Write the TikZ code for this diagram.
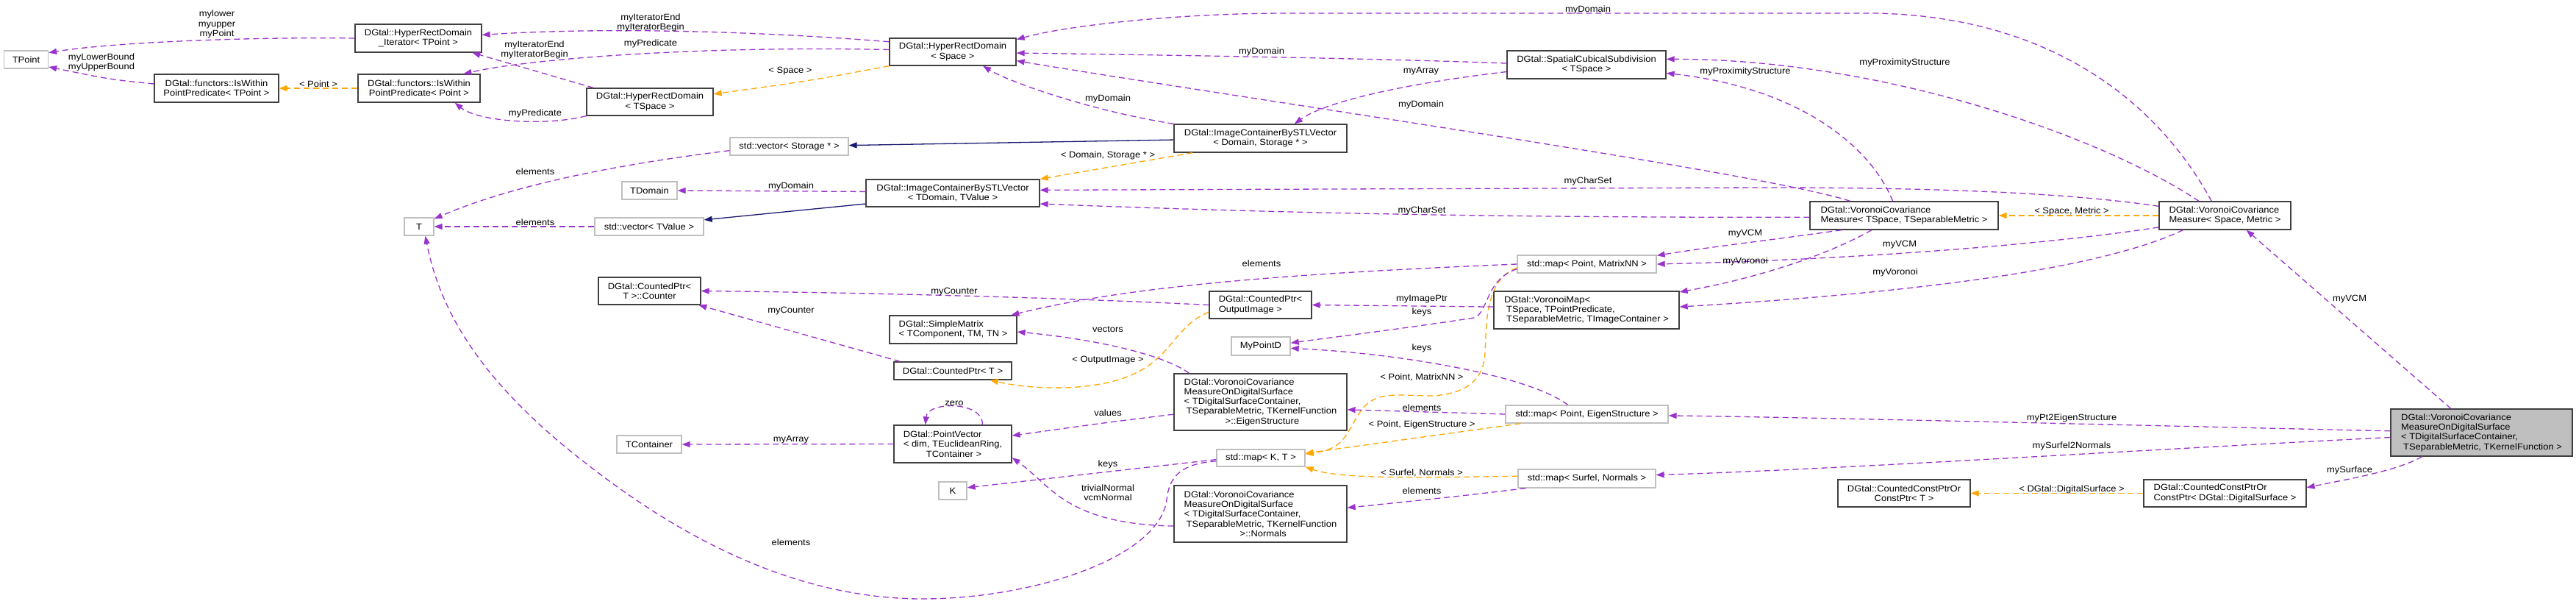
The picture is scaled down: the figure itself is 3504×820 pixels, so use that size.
\documentclass[tikz,border=0pt]{standalone}
\usepackage{fontspec}
\setmainfont{Liberation Sans}[FakeStretch=1.08]
\usetikzlibrary{arrows.meta}
\definecolor{usePurple}{rgb}{0.60, 0.20, 0.80}
\definecolor{tmplOrange}{rgb}{1.0, 0.65, 0.0}
\definecolor{inhBlue}{rgb}{0.10, 0.10, 0.44}
\definecolor{extGray}{rgb}{0.75, 0.75, 0.75}
\definecolor{boxDark}{rgb}{0.25, 0.25, 0.25}

\begin{document}
\begin{tikzpicture}[x=1pt, y=-1pt,
    font=\fontsize{12}{13.3}\selectfont,
    cls/.style={draw=boxDark, line width=1.3pt, inner sep=0pt, align=center},
    ext/.style={draw=extGray, line width=1.3pt, inner sep=0pt, align=center},
    dims/.style 2 args={minimum width=#1pt, minimum height=#2pt},
    use/.style={usePurple, line width=1.3pt, dash pattern=on 8pt off 5pt,
        -{Triangle[length=11pt, width=8pt]}},
    tmpl/.style={tmplOrange, line width=1.3pt, dash pattern=on 8pt off 5pt,
        -{Triangle[length=11pt, width=8pt]}},
    inh/.style={inhBlue, line width=1.3pt, -{Triangle[length=11pt, width=8pt]}},
    lbl/.style={inner sep=0pt, align=center}]
    \useasboundingbox (0,0) rectangle (3504,820);

    % classes, top rows
    \node[ext, dims={60}{24}] (tpoint) at (35.5,81) {TPoint};
    \node[cls, dims={172}{38}] (iter) at (569,52) {DGtal::HyperRectDomain\\\_Iterator< TPoint >};
    \node[cls, dims={169}{38}] (withinT) at (294.5,120) {DGtal::functors::IsWithin\\PointPredicate< TPoint >};
    \node[cls, dims={166}{38}] (withinP) at (570,120) {DGtal::functors::IsWithin\\PointPredicate< Point >};
    \node[cls, dims={172}{37}] (hrdT) at (884,138.5) {DGtal::HyperRectDomain\\< TSpace >};
    \node[cls, dims={172}{37}] (hrdS) at (1296,70.5) {DGtal::HyperRectDomain\\< Space >};
    \node[cls, dims={216}{38}] (scs) at (2158,88) {DGtal::SpatialCubicalSubdivision\\< TSpace >};
    \node[cls, dims={235}{38}] (icDS) at (1714.5,188) {DGtal::ImageContainerBySTLVector\\< Domain, Storage * >};
    \node[ext, dims={161}{24}] (vecS) at (1073.5,199) {std::vector< Storage * >};
    \node[ext, dims={75}{24}] (tdom) at (883.5,259) {TDomain};
    \node[cls, dims={236}{37}] (icTT) at (1296,262.5) {DGtal::ImageContainerBySTLVector\\< TDomain, TValue >};
    \node[ext, dims={148}{24}] (vecT) at (883,308) {std::vector< TValue >};
    \node[ext, dims={40}{24}] (t) at (570,308) {T};
    \node[cls, dims={256}{38}, align=left] (vcmT) at (2590,293) {DGtal::VoronoiCovariance\\Measure< TSpace, TSeparableMetric >};
    \node[cls, dims={179}{38}, align=left] (vcmS) at (3026.5,293) {DGtal::VoronoiCovariance\\Measure< Space, Metric >};

    % classes, middle rows
    \node[cls, dims={139}{37}] (counter) at (883.5,395.5) {DGtal::CountedPtr<\\T >::Counter};
    \node[cls, dims={173}{38}, align=left] (smat) at (1296.5,448) {DGtal::SimpleMatrix\\< TComponent, TM, TN >};
    \node[cls, dims={139}{37}, align=left] (cpOut) at (1714.5,414.5) {DGtal::CountedPtr<\\OutputImage >};
    \node[ext, dims={80}{25}] (mypt) at (1715,470.5) {MyPointD};
    \node[cls, dims={160}{24}] (cpT) at (1296,504) {DGtal::CountedPtr< T >};
    \node[ext, dims={189}{24}] (mapPM) at (2158.5,359) {std::map< Point, MatrixNN >};
    \node[cls, dims={252}{51}, align=left] (vmap) at (2158,421.5) {DGtal::VoronoiMap<\\\hspace*{3pt}TSpace, TPointPredicate,\\\hspace*{3pt}TSeparableMetric, TImageContainer >};

    % classes, bottom rows
    \node[cls, dims={160}{51}, align=left] (pvec) at (1296,603.5) {DGtal::PointVector\\< dim, TEuclideanRing,\\\hspace*{31pt}TContainer >};
    \node[ext, dims={88}{24}] (tcont) at (883,604) {TContainer};
    \node[ext, dims={38}{24}] (k) at (1296,667) {K};
    \node[cls, dims={235}{77}, align=left] (eigen) at (1714.5,546.5) {DGtal::VoronoiCovariance\\MeasureOnDigitalSurface\\< TDigitalSurfaceContainer,\\\hspace*{3pt}TSeparableMetric, TKernelFunction\\\hspace*{56pt}>::EigenStructure};
    \node[ext, dims={120}{23}] (mapKT) at (1715,622.5) {std::map< K, T >};
    \node[cls, dims={235}{77}, align=left] (normals) at (1714.5,698.5) {DGtal::VoronoiCovariance\\MeasureOnDigitalSurface\\< TDigitalSurfaceContainer,\\\hspace*{3pt}TSeparableMetric, TKernelFunction\\\hspace*{76pt}>::Normals};
    \node[ext, dims={221}{24}] (mapPE) at (2158.5,563) {std::map< Point, EigenStructure >};
    \node[ext, dims={187}{25}] (mapSN) at (2158.5,650.5) {std::map< Surfel, Normals >};
    \node[cls, dims={180}{37}] (ccpT) at (2590,670.5) {DGtal::CountedConstPtrOr\\ConstPtr< T >};
    \node[cls, dims={221}{37}, align=left] (ccpDS) at (3026.5,670.5) {DGtal::CountedConstPtrOr\\ConstPtr< DGtal::DigitalSurface >};
    \node[cls, fill=extGray, dims={247}{64}, align=left] (main) at (3375.5,588) {DGtal::VoronoiCovariance\\MeasureOnDigitalSurface\\< TDigitalSurfaceContainer,\\\hspace*{3pt}TSeparableMetric, TKernelFunction >};

    % inheritance
    \draw[inh] (icDS.181) -- (vecS.1);
    \draw[inh] (icTT.187) -- (vecT.7);

    % template instances
    \draw[tmpl] (withinP.west) -- (withinT.east);
    \node[lbl] at (433,114) {< Point >};
    \draw[tmpl] (hrdS.south west) .. controls (1100,110) .. (hrdT.7);
    \node[lbl] at (1075,97) {< Space >};
    \draw[tmpl] (icDS.192) -- (icTT.north east);
    \node[lbl] at (1507,211) {< Domain, Storage * >};
    \draw[tmpl] (vcmS.west) -- (vcmT.east);
    \node[lbl] at (2818,287) {< Space, Metric >};
    \draw[tmpl] (cpOut.188) .. controls (1580,450) and (1600,520) .. (1450,527)
        .. controls (1400,528) and (1370,522) .. (cpT.-14);
    \node[lbl] at (1507,490) {< OutputImage >};
    \draw[tmpl] (mapPM.183) .. controls (2020,380) and (2022,440) .. (2020,480)
        .. controls (2018,520) and (1990,535) .. (1950,538)
        .. controls (1900,538) and (1870,530) .. (1850,560)
        .. controls (1830,590) and (1830,610) .. (mapKT.5);
    \node[lbl] at (1934,513) {< Point, MatrixNN >};
    \draw[tmpl] (mapPE.188) -- (mapKT.6);
    \node[lbl] at (1934,577) {< Point, EigenStructure >};
    \draw[tmpl] (mapSN.178) .. controls (1900,650) and (1820,650) .. (mapKT.south east);
    \node[lbl] at (1934,643) {< Surfel, Normals >};
    \draw[tmpl] (ccpDS.west) -- (ccpT.east);
    \node[lbl] at (2818,665) {< DGtal::DigitalSurface >};

    % members, left part
    \draw[use] (iter.west) .. controls (330,50) and (150,58) .. (tpoint.17);
    \node[lbl] at (295,33) {mylower\\myupper\\myPoint};
    \draw[use] (withinT.176) .. controls (150,108) .. (tpoint.-18);
    \node[lbl] at (138,85) {myLowerBound\\myUpperBound};
    \draw[use] (hrdS.171) .. controls (1000,40) and (800,38) .. (iter.3);
    \node[lbl] at (885,31) {myIteratorEnd\\myIteratorBegin};
    \draw[use] (hrdS.178) .. controls (950,62) and (720,80) .. (withinP.18);
    \node[lbl] at (885,59) {myPredicate};
    \draw[use] (hrdT.166) -- (iter.-15);
    \node[lbl] at (727,68) {myIteratorEnd\\myIteratorBegin};
    \draw[use] (hrdT.south west) .. controls (740,172) and (650,165) .. (withinP.-22);
    \node[lbl] at (728,154) {myPredicate};
    \draw[use] (icDS.north west) .. controls (1480,150) and (1370,110) .. (hrdS.-25);
    \node[lbl] at (1507,134) {myDomain};
    \draw[use] (vecS.184) .. controls (850,222) and (700,250) .. (t.27);
    \node[lbl] at (728,233) {elements};
    \draw[use] (vecT.west) -- (t.east);
    \node[lbl] at (728,302) {elements};
    \draw[use] (icTT.179) -- (tdom.east);
    \node[lbl] at (1076,253) {myDomain};

    % members, upper right part
    \draw[use] (scs.179) .. controls (1900,80) and (1600,75) .. (hrdS.-1);
    \node[lbl] at (1716,70) {myDomain};
    \draw[use] (scs.185) .. controls (1900,115) and (1800,140) .. (icDS.23);
    \node[lbl] at (1933,97) {myArray};
    \draw[use] (vcmT.165) .. controls (2400,235) and (1700,135) .. (hrdS.-8);
    \node[lbl] at (1933,142) {myDomain};
    \draw[use] (vcmT.128) .. controls (2545,200) and (2450,120) .. (scs.-6);
    \node[lbl] at (2374,97) {myProximityStructure};
    \draw[use] (vcmS.133) .. controls (2930,130) and (2780,22) .. (2550,18) -- (1750,18)
        .. controls (1600,18) and (1450,35) .. (hrdS.11);
    \node[lbl] at (2160,13) {myDomain};
    \draw[use] (vcmS.151) .. controls (2850,180) and (2550,80) .. (scs.4);
    \node[lbl] at (2591,85) {myProximityStructure};
    \draw[use] (vcmS.172) .. controls (2800,260) and (2600,255) .. (2400,255) -- (icTT.2);
    \node[lbl] at (2160,246) {myCharSet};
    \draw[use] (vcmT.181) .. controls (2000,296) and (1700,288) .. (icTT.-7);
    \node[lbl] at (1934,286) {myCharSet};
    \draw[use] (vcmT.193) .. controls (2420,325) and (2330,335) .. (mapPM.7);
    \node[lbl] at (2374,318) {myVCM};
    \draw[use] (vcmS.190) .. controls (2800,330) and (2550,352) .. (mapPM.east);
    \node[lbl] at (2584,333) {myVCM};
    \draw[use] (vcmT.204) .. controls (2480,350) and (2380,380) .. (vmap.11);
    \node[lbl] at (2374,355) {myVoronoi};
    \draw[use] (vcmS.199) .. controls (2870,360) and (2650,395) .. (vmap.2);
    \node[lbl] at (2578,370) {myVoronoi};

    % members, middle part
    \draw[use] (mapPM.west) .. controls (1800,370) and (1550,385) .. (smat.14);
    \node[lbl] at (1716,358) {elements};
    \draw[use] (vmap.178) -- (cpOut.east);
    \node[lbl] at (1934,407) {myImagePtr};
    \draw[use] (mapPM.184) .. controls (2020,380) and (2025,425) .. (2005,432)
        .. controls (1900,448) and (1800,460) .. (mypt.6);
    \node[lbl] at (1934,424) {keys};
    \draw[use] (mapPE.154) .. controls (2080,510) and (1900,480) .. (mypt.-4);
    \node[lbl] at (1934,473) {keys};
    \draw[use] (cpOut.west) .. controls (1450,405) and (1200,398) .. (counter.east);
    \node[lbl] at (1298,397) {myCounter};
    \draw[use] (cpT.170) -- (counter.-16);
    \node[lbl] at (1076,423) {myCounter};
    \draw[use] (eigen.158) .. controls (1580,480) and (1480,460) .. (smat.-2);
    \node[lbl] at (1507,448) {vectors};

    % members, lower part
    \draw[use] (eigen.188) .. controls (1500,575) .. (pvec.8);
    \node[lbl] at (1507,561) {values};
    \draw[use] (pvec.33) .. controls (1338,545) and (1262,545) .. (pvec.145);
    \node[lbl] at (1298,548) {zero};
    \draw[use] (pvec.west) -- (tcont.east);
    \node[lbl] at (1076,598) {myArray};
    \draw[use] (mapKT.182) -- (k.12);
    \node[lbl] at (1507,631) {keys};
    \draw[use] (mapKT.184) .. controls (1610,630) and (1590,645) .. (1587,680)
        .. controls (1575,760) and (1400,815) .. (1250,814)
        .. controls (1050,812) and (880,700) .. (760,600)
        .. controls (660,515) and (600,430) .. (t.-56);
    \node[lbl] at (1076,737) {elements};
    \draw[use] (normals.188) .. controls (1450,712) and (1430,660) .. (pvec.-13);
    \node[lbl] at (1507,670) {trivialNormal\\vcmNormal};
    \draw[use] (mapPE.west) -- (eigen.-5);
    \node[lbl] at (1934,554) {elements};
    \draw[use] (mapSN.189) .. controls (1980,675) .. (normals.4);
    \node[lbl] at (1934,667) {elements};

    % members of the main class
    \draw[use] (main.142) -- (vcmS.-34);
    \node[lbl] at (3196,407) {myVCM};
    \draw[use] (main.179) .. controls (2900,578) and (2500,568) .. (mapPE.-1);
    \node[lbl] at (2818,568) {myPt2EigenStructure};
    \draw[use] (main.183) .. controls (2900,612) and (2500,638) .. (mapSN.3);
    \node[lbl] at (2818,606) {mySurfel2Normals};
    \draw[use] (main.202) .. controls (3260,640) and (3200,650) .. (ccpDS.4);
    \node[lbl] at (3196,639) {mySurface};
\end{tikzpicture}
\end{document}
